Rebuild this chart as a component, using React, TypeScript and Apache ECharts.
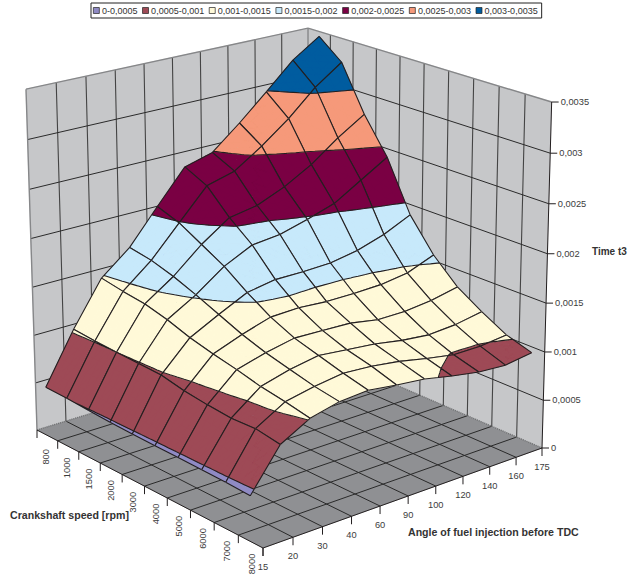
import React, { useEffect, useRef } from "react";
import * as echarts from "echarts";

// ---------- data ----------
const speedLabels = ["800", "1000", "1500", "2000", "3000", "4000", "5000", "6000", "7000", "8000"];
const angleLabels = ["15", "20", "30", "40", "60", "90", "100", "120", "140", "160", "175"];
const timeTicks = ["0", "0,0005", "0,001", "0,0015", "0,002", "0,0025", "0,003", "0,0035"];
const bandNames = ["0-0,0005", "0,0005-0,001", "0,001-0,0015", "0,0015-0,002", "0,002-0,0025", "0,0025-0,003", "0,003-0,0035"];
const bandColors = ["#8f8ac4", "#9e4a56", "#fff9d8", "#c7e9fb", "#7a0043", "#f6997a", "#005c9f"];
const bandEdges = [0, 0.0005, 0.001, 0.0015, 0.002, 0.0025, 0.003, 0.0035];

const t3At800 = [0.00051, 0.00103, 0.00148, 0.00172, 0.00207, 0.00241, 0.00249, 0.00273, 0.00299, 0.00326, 0.00345];
const t3At1000 = [0.000505, 0.00101, 0.00144, 0.00168, 0.00199, 0.0023, 0.00238, 0.00257, 0.00279, 0.00305, 0.00325];
const t3At1500 = [0.00049, 0.00100, 0.00141, 0.00161, 0.00186, 0.00206, 0.00211, 0.00223, 0.00239, 0.0026, 0.00278];
const t3At2000 = [0.00048, 0.00099, 0.00135, 0.00152, 0.00173, 0.00187, 0.0019, 0.00198, 0.00207, 0.00224, 0.00241];
const t3At3000 = [0.000475, 0.00098, 0.00127, 0.00142, 0.00156, 0.00161, 0.00161, 0.00162, 0.00167, 0.00176, 0.00189];
const t3At4000 = [0.00047, 0.00093, 0.00121, 0.00132, 0.00141, 0.00142, 0.0014, 0.0014, 0.00141, 0.00145, 0.00156];
const t3At5000 = [0.000468, 0.0009, 0.00116, 0.00124, 0.0013, 0.00129, 0.00128, 0.00123, 0.00123, 0.00126, 0.00132];
const t3At6000 = [0.000465, 0.00088, 0.0011, 0.00118, 0.00123, 0.0012, 0.00117, 0.00112, 0.00109, 0.00111, 0.00116];
const t3At7000 = [0.00046, 0.00089, 0.00106, 0.00112, 0.00116, 0.00114, 0.0011, 0.00104, 0.00099, 0.00099, 0.00102];
const t3At8000 = [0.00045, 0.00085, 0.00101, 0.00108, 0.0011, 0.00106, 0.00103, 0.00097, 0.00092, 0.0009, 0.00094];
const t3Rows = [t3At800, t3At1000, t3At1500, t3At2000, t3At3000, t3At4000, t3At5000, t3At6000, t3At7000, t3At8000];

const axisTitles = ["Crankshaft speed [rpm]", "Angle of fuel injection before TDC", "Time t3"];

// ---------- 3D box camera ----------
const Z_MAX = 0.0035;
const FONT = '"Liberation Sans", Arial, sans-serif';
const CAM = {
  xu: 201.6, xv: 294.55, xz: -12.01, x0: 37,
  yu: 67.15, yv: -56.47, yz: -344.3, y0: 430,
  wu: -0.09279, wv: 0.07645, wz: -0.039,
};
function project(u: number, v: number, t: number): [number, number] {
  const z = t / Z_MAX;
  const w = CAM.wu * u + CAM.wv * v + CAM.wz * z + 1;
  return [
    (CAM.xu * u + CAM.xv * v + CAM.xz * z + CAM.x0) / w,
    (CAM.yu * u + CAM.yv * v + CAM.yz * z + CAM.y0) / w,
  ];
}

type P = { u: number; v: number; t: number };
const clipBand = (poly: P[], level: number, above: boolean): P[] => {
  const out: P[] = [];
  for (let k = 0; k < poly.length; k++) {
    const a = poly[k];
    const b = poly[(k + 1) % poly.length];
    const ia = above ? a.t >= level : a.t <= level;
    const ib = above ? b.t >= level : b.t <= level;
    if (ia) out.push(a);
    if (ia !== ib) {
      const f = (level - a.t) / (b.t - a.t);
      out.push({ u: a.u + f * (b.u - a.u), v: a.v + f * (b.v - a.v), t: level });
    }
  }
  return out;
};

const SUB = 4;
function renderCell(i: number, j: number, coord: (p: number[]) => number[]) {
  const line = (a: P, b: P) => {
    const pa = coord(project(a.u, a.v, a.t));
    const pb = coord(project(b.u, b.v, b.t));
    return `M${pa[0].toFixed(2)} ${pa[1].toFixed(2)}L${pb[0].toFixed(2)} ${pb[1].toFixed(2)}`;
  };
  const uOf = (n: number) => (n + 0.5) / 10;
  const vOf = (n: number) => n / 10;
  const z00 = t3Rows[i][j], z01 = t3Rows[i][j + 1], z10 = t3Rows[i + 1][j], z11 = t3Rows[i + 1][j + 1];
  const at = (s: number, q: number): P => ({
    u: uOf(i) + s * 0.1,
    v: vOf(j) + q * 0.1,
    t: (1 - s) * (1 - q) * z00 + (1 - s) * q * z01 + s * (1 - q) * z10 + s * q * z11,
  });
  const bandPaths: string[] = bandColors.map(() => "");
  let contour = "";
  for (let a = 0; a < SUB; a++) {
    for (let b = 0; b < SUB; b++) {
      const p00 = at(a / SUB, b / SUB), p01 = at(a / SUB, (b + 1) / SUB);
      const p10 = at((a + 1) / SUB, b / SUB), p11 = at((a + 1) / SUB, (b + 1) / SUB);
      for (const tri of [[p00, p01, p11], [p00, p11, p10]]) {
        for (let n = 0; n < bandColors.length; n++) {
          let poly = clipBand(tri, bandEdges[n], true);
          if (poly.length) poly = clipBand(poly, bandEdges[n + 1], false);
          if (poly.length >= 3) {
            bandPaths[n] += poly
              .map((q, idx) => {
                const c = coord(project(q.u, q.v, q.t));
                return `${idx ? "L" : "M"}${c[0].toFixed(2)} ${c[1].toFixed(2)}`;
              })
              .join("") + "Z";
          }
        }
        for (let n = 1; n < bandEdges.length - 1; n++) {
          const level = bandEdges[n];
          const cross: P[] = [];
          for (let k = 0; k < 3; k++) {
            const m = tri[k], o = tri[(k + 1) % 3];
            if (m.t >= level !== o.t >= level) {
              const f = (level - m.t) / (o.t - m.t);
              cross.push({ u: m.u + f * (o.u - m.u), v: m.v + f * (o.v - m.v), t: level });
            }
          }
          if (cross.length === 2) contour += line(cross[0], cross[1]);
        }
      }
    }
  }
  const children: any[] = [];
  bandPaths.forEach((d, n) => {
    if (d) children.push({ type: "path", shape: { pathData: d }, style: { fill: bandColors[n], stroke: bandColors[n], lineWidth: 0.4 } });
  });
  const c00 = at(0, 0), c01 = at(0, 1), c10 = at(1, 0), c11 = at(1, 1);
  const edges = line(c00, c01) + line(c01, c11) + line(c11, c10) + line(c10, c00);
  children.push({ type: "path", shape: { pathData: contour + edges }, style: { fill: "none", stroke: "#231f20", lineWidth: 1.1 } });
  return { type: "group", children };
}

function renderFrame(coord: (p: number[]) => number[]) {
  const pt = (u: number, v: number, t: number) => coord(project(u, v, t));
  const seg = (a: number[], b: number[]) => `M${a[0].toFixed(2)} ${a[1].toFixed(2)}L${b[0].toFixed(2)} ${b[1].toFixed(2)}`;
  const children: any[] = [];
  const poly = (pts: number[][], fill: string) =>
    children.push({ type: "polygon", shape: { points: pts }, style: { fill, stroke: fill, lineWidth: 0.5 } });
  poly([pt(0, 0, 0), pt(0, 1, 0), pt(0, 1, Z_MAX), pt(0, 0, Z_MAX)], "#c6c7c9");
  poly([pt(0, 1, 0), pt(1, 1, 0), pt(1, 1, Z_MAX), pt(0, 1, Z_MAX)], "#c6c7c9");
  poly([pt(0, 0, 0), pt(1, 0, 0), pt(1, 1, 0), pt(0, 1, 0)], "#8f9093");

  let wallVert = "";
  let grid = "";
  for (let k = 1; k < 10; k++) {
    wallVert += seg(pt(0, k / 10, 0), pt(0, k / 10, Z_MAX));
    wallVert += seg(pt(k / 10, 1, 0), pt(k / 10, 1, Z_MAX));
    grid += seg(pt(k / 10, 0, 0), pt(k / 10, 1, 0));
    grid += seg(pt(0, k / 10, 0), pt(1, k / 10, 0));
  }
  for (let k = 1; k < timeTicks.length - 1; k++) {
    const t = (k * Z_MAX) / (timeTicks.length - 1);
    grid += seg(pt(0, 0, t), pt(0, 1, t)) + seg(pt(0, 1, t), pt(1, 1, t));
  }
  children.push({ type: "path", shape: { pathData: wallVert }, style: { fill: "none", stroke: "#444", lineWidth: 1.1 } });
  children.push({ type: "path", shape: { pathData: grid }, style: { fill: "none", stroke: "#2a2a2a", lineWidth: 1 } });
  children.push({
    type: "path",
    shape: { pathData: seg(pt(0, 0, 0), pt(0, 1, 0)) + seg(pt(0, 1, 0), pt(1, 1, 0)) },
    style: { fill: "none", stroke: "#6f7072", lineWidth: 1.4, lineDash: [1, 1] },
  });
  children.push({
    type: "path",
    shape: { pathData: seg(pt(0, 0, 0), pt(0, 0, Z_MAX)) + seg(pt(0, 0, Z_MAX), pt(0, 1, Z_MAX)) + seg(pt(0, 1, Z_MAX), pt(1, 1, Z_MAX)) + seg(pt(0, 1, 0), pt(0, 1, Z_MAX)) },
    style: { fill: "none", stroke: "#868789", lineWidth: 1.4 },
  });

  let axisLines = seg(pt(0, 0, 0), pt(1, 0, 0)) + seg(pt(1, 0, 0), pt(1, 1, 0)) + seg(pt(1, 1, 0), pt(1, 1, Z_MAX));
  for (let k = 0; k <= 10; k++) {
    const a = pt(k / 10, 0, 0);
    axisLines += seg(a, [a[0], a[1] + 8]);
    const b = pt(1, k / 10, 0);
    axisLines += seg(b, [b[0], b[1] + 8]);
  }
  timeTicks.forEach((_, k) => {
    const a = pt(1, 1, (k * Z_MAX) / (timeTicks.length - 1));
    axisLines += seg(a, [a[0] + 7, a[1]]);
  });
  children.push({ type: "path", shape: { pathData: axisLines }, style: { fill: "none", stroke: "#231f20", lineWidth: 1 } });
  return { type: "group", children };
}

function renderLabels(coord: (p: number[]) => number[]) {
  const pt = (u: number, v: number, t: number) => coord(project(u, v, t));
  const children: any[] = [];
  const label = (text: string, x: number, y: number, align: string, rotation = 0, bold = false, size = 9.3) =>
    children.push({
      type: "text",
      x, y, rotation,
      style: { text, x: 0, y: 0, align, verticalAlign: "middle", fill: bold ? "#333" : "#3c3c3c", font: `${bold ? "bold " : ""}${size}px ${FONT}` },
    });
  speedLabels.forEach((s, k) => {
    const a = pt((k + 1) / 10, 0, 0);
    label(s, a[0] - 11.5, a[1] + 16, "center", Math.PI / 2);
  });
  angleLabels.forEach((s, k) => {
    const a = pt(1, k / 10, 0);
    label(s, a[0], a[1] + 19, "center");
  });
  timeTicks.forEach((s, k) => {
    const a = pt(1, 1, (k * Z_MAX) / (timeTicks.length - 1));
    label(s, a[0] + 9, a[1], "left");
  });
  label(axisTitles[0], 10, 515, "left", 0, true, 10.6);
  label(axisTitles[1], 408, 532, "left", 0, true, 10.6);
  label(axisTitles[2], 592, 251, "left", 0, true, 10);
  return { type: "group", children };
}

const cellList: number[][] = [];
for (let i = 0; i < t3Rows.length - 1; i++) {
  for (let j = angleLabels.length - 2; j >= 0; j--) cellList.push([i, j]);
}

export default function App() {
  const ref = useRef<HTMLDivElement>(null);
  useEffect(() => {
    if (!ref.current) return;
    const chart = echarts.init(ref.current, undefined, { renderer: "svg" });
    chart.setOption({
      animation: false,
      backgroundColor: "#ffffff",
      grid: { left: 0, right: 0, top: 0, bottom: 0 },
      xAxis: { type: "value", min: 0, max: 628, show: false },
      yAxis: { type: "value", min: 0, max: 578, inverse: true, show: false },
      legend: {
        left: 91,
        top: 3,
        orient: "horizontal",
        padding: [3, 4, 3, 2],
        itemGap: 4.7,
        itemWidth: 6,
        itemHeight: 6,
        borderColor: "#222",
        borderWidth: 1,
        selectedMode: false,
        icon: "rect",
        textStyle: { fontFamily: "Liberation Sans", fontSize: 9, color: "#333", padding: [0, 0, 0, -2.4] },
        data: bandNames.map((name, n) => ({
          name,
          itemStyle: { color: bandColors[n], borderColor: "#222", borderWidth: 0.7 },
        })),
      },
      series: [
        {
          type: "custom",
          name: "frame",
          coordinateSystem: "cartesian2d",
          clip: false,
          silent: true,
          z: 1,
          data: [[0, 0]],
          renderItem: (_p: any, api: any) => renderFrame((c) => api.coord(c)),
        },
        {
          type: "custom",
          name: "surface",
          coordinateSystem: "cartesian2d",
          clip: false,
          silent: true,
          z: 2,
          data: cellList,
          renderItem: (_p: any, api: any) => renderCell(api.value(0), api.value(1), (c) => api.coord(c)),
        },
        {
          type: "custom",
          name: "labels",
          coordinateSystem: "cartesian2d",
          clip: false,
          silent: true,
          z: 3,
          data: [[0, 0]],
          renderItem: (_p: any, api: any) => renderLabels((c) => api.coord(c)),
        },
        ...bandNames.map((name, n) => ({
          type: "custom",
          name,
          coordinateSystem: "cartesian2d",
          itemStyle: { color: bandColors[n] },
          data: [],
          renderItem: () => null,
        })),
      ],
    });
    return () => chart.dispose();
  }, []);
  return <div ref={ref} style={{ position: "absolute", left: 0, top: 0, width: 628, height: 578 }} />;
}
